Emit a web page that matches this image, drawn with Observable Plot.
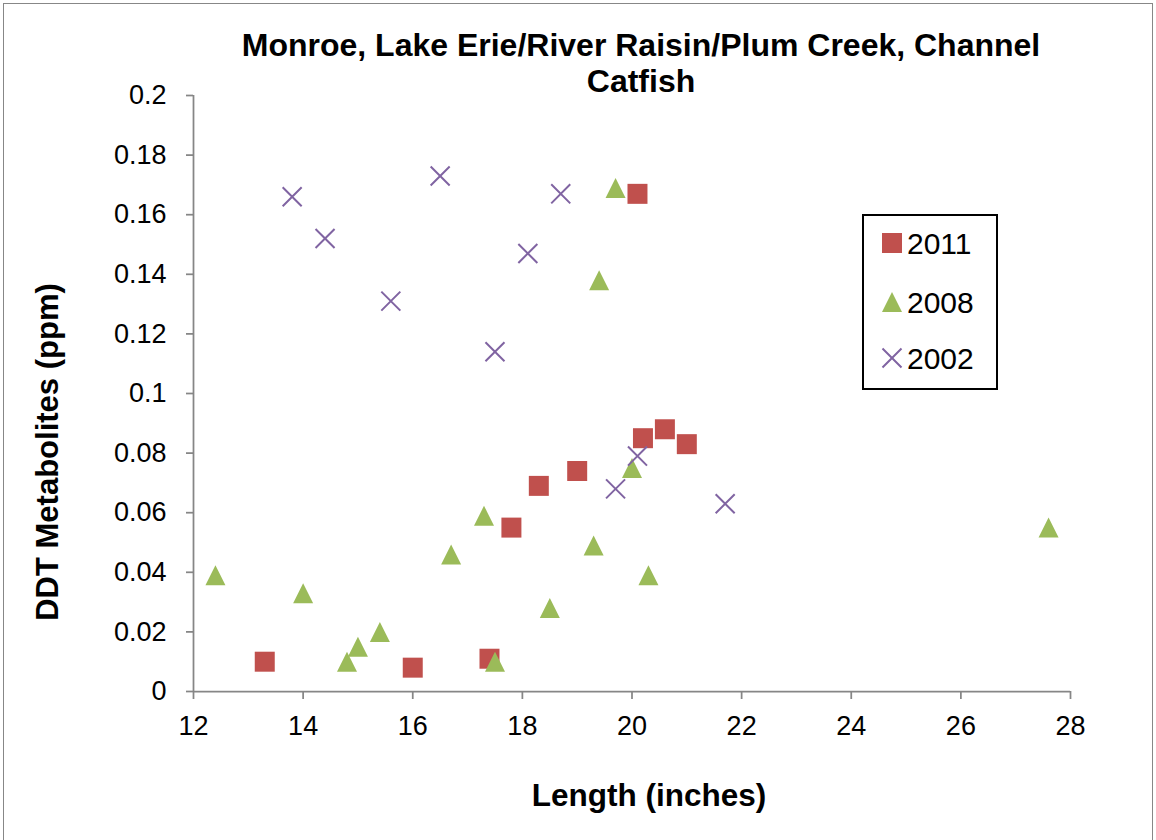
<!DOCTYPE html>
<html>
<head>
<meta charset="utf-8">
<script src="https://cdn.jsdelivr.net/npm/d3@7"></script>
<script src="https://cdn.jsdelivr.net/npm/@observablehq/plot@0.6"></script>
<style>
  html, body { margin: 0; padding: 0; background: #fff; }
  #chart { position: relative; width: 1156px; height: 840px; overflow: hidden; }
  #frame { position: absolute; left: 3px; top: 3px; width: 1150px; height: 845px; border: 1.5px solid #878787; box-sizing: border-box; pointer-events: none; }
  svg { font-family: "Liberation Sans", Arial, sans-serif; }
</style>
</head>
<body>
<div id="chart"><div id="frame"></div></div>
<script>
// ---- data ----
const title = ["Monroe, Lake Erie/River Raisin/Plum Creek, Channel", "Catfish"];
const xLabel = "Length (inches)";
const yLabel = "DDT Metabolites (ppm)";
const seriesNames = ["2011", "2008", "2002"];

const len2011 = [13.3, 16.0, 17.4, 17.8, 18.3, 19.0, 20.2, 20.6, 21.0, 20.1];
const ddt2011 = [0.010, 0.008, 0.011, 0.055, 0.069, 0.074, 0.085, 0.088, 0.083, 0.167];

const len2008 = [12.4, 14.0, 14.8, 15.0, 15.4, 16.7, 17.3, 17.5, 18.5, 19.4, 19.7, 19.3, 20.0, 20.3, 27.6];
const ddt2008 = [0.039, 0.033, 0.010, 0.015, 0.020, 0.046, 0.059, 0.010, 0.028, 0.138, 0.169, 0.049, 0.075, 0.039, 0.055];

const len2002 = [13.8, 14.4, 15.6, 16.5, 17.5, 18.1, 18.7, 20.1, 19.7, 21.7];
const ddt2002 = [0.166, 0.152, 0.131, 0.173, 0.114, 0.147, 0.167, 0.079, 0.068, 0.063];

const xTicks = [12, 14, 16, 18, 20, 22, 24, 26, 28];
const yTicks = [0, 0.02, 0.04, 0.06, 0.08, 0.1, 0.12, 0.14, 0.16, 0.18, 0.2];

// ---- build table ----
const rows = (lens, vals, s) => lens.map((x, i) => ({x, y: vals[i], s}));
const d2011 = rows(len2011, ddt2011, "2011");
const d2008 = rows(len2008, ddt2008, "2008");
const d2002 = rows(len2002, ddt2002, "2002");

const colors = {"2011": "#C0504D", "2008": "#9BBB59", "2002": "#8064A2"};
const axisColor = "#868686";

const triangleSym = {
  draw(ctx, size) {
    const h = Math.sqrt(size / Math.PI) * 2;
    ctx.moveTo(0, -h / 2);
    ctx.lineTo(h / 2, h / 2);
    ctx.lineTo(-h / 2, h / 2);
    ctx.closePath();
  }
};

const fmt = d => String(+d.toFixed(2));

const plot = Plot.plot({
  width: 1156,
  height: 840,
  marginLeft: 193,
  marginRight: 86,
  marginTop: 95,
  marginBottom: 149,
  style: {fontFamily: '"Liberation Sans", Arial, sans-serif', background: "transparent", color: "#000", overflow: "visible"},
  x: {domain: [12, 28]},
  y: {domain: [0, 0.2]},
  marks: [
    Plot.axisY({ticks: yTicks, tickFormat: fmt, tickSize: 7, tickPadding: 20, fontSize: 27, stroke: axisColor, strokeWidth: 1.75, label: null}),
    Plot.axisX({ticks: xTicks, tickFormat: d => String(d), tickSize: 8, tickPadding: 16, fontSize: 27, stroke: axisColor, strokeWidth: 1.75, label: null}),
    Plot.ruleX([12], {stroke: axisColor, strokeWidth: 1.75}),
    Plot.ruleY([0], {stroke: axisColor, strokeWidth: 1.75}),
    Plot.dot(d2011, {x: "x", y: "y", symbol: "square", r: 11.28, fill: colors["2011"], stroke: "none"}),
    Plot.dot(d2008, {x: "x", y: "y", symbol: triangleSym, r: 10, fill: colors["2008"], stroke: "none"}),
    Plot.dot(d2002, {x: "x", y: "y", symbol: "times", r: 8.7, stroke: colors["2002"], strokeWidth: 2, fill: "none"})
  ]
});

document.getElementById("chart").prepend(plot);

const svg = d3.select(plot);

// Title
const t = svg.append("text")
  .attr("text-anchor", "middle")
  .attr("font-weight", "bold")
  .attr("font-size", 32)
  .attr("fill", "#000");
t.append("tspan").attr("x", 641).attr("y", 56).text(title[0]);
t.append("tspan").attr("x", 641).attr("y", 92).text(title[1]);

// Axis titles
svg.append("text")
  .attr("text-anchor", "middle")
  .attr("font-weight", "bold")
  .attr("font-size", 31.5)
  .attr("x", 649).attr("y", 806)
  .text(xLabel);

svg.append("text")
  .attr("text-anchor", "middle")
  .attr("font-weight", "bold")
  .attr("font-size", 31)
  .attr("transform", "translate(58,452) rotate(-90)")
  .text(yLabel);

// Legend
const lg = svg.append("g");
lg.append("rect")
  .attr("x", 863).attr("y", 215).attr("width", 134).attr("height", 174)
  .attr("fill", "#fff").attr("stroke", "#000").attr("stroke-width", 2);
const legendY = [243, 302, 358];
const legendSym = [d3.symbol(d3.symbolSquare, 20 * 20), d3.symbol(triangleSym, Math.PI * 100), d3.symbol(d3.symbolTimes, Math.PI * 8.7 * 8.7)];
seriesNames.forEach((name, i) => {
  const p = lg.append("path")
    .attr("transform", `translate(892,${legendY[i]})`)
    .attr("d", legendSym[i]());
  if (name === "2002") p.attr("fill", "none").attr("stroke", colors[name]).attr("stroke-width", 2);
  else p.attr("fill", colors[name]).attr("stroke", "none");
  lg.append("text")
    .attr("x", 907).attr("y", legendY[i])
    .attr("dy", "0.36em")
    .attr("text-anchor", "start")
    .attr("font-size", 30)
    .attr("fill", "#000")
    .text(name);
});
</script>
</body>
</html>
